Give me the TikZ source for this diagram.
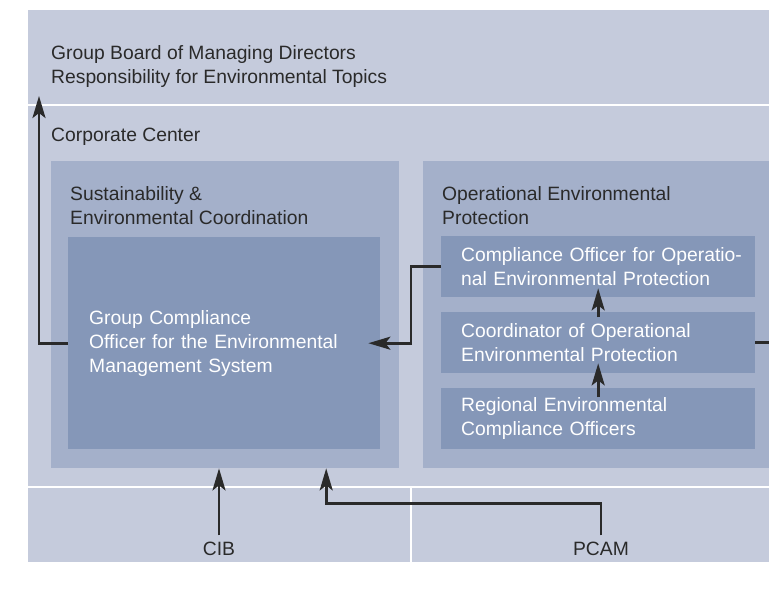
\documentclass[tikz,border=0pt]{standalone}
\usepackage{fontspec}
\setmainfont{Liberation Sans}
\usetikzlibrary{arrows.meta,positioning}
\definecolor{bglight}{HTML}{C5CBDC}
\definecolor{boxmid}{HTML}{A4B0CA}
\definecolor{boxdark}{HTML}{8597B8}
\definecolor{txtdark}{HTML}{2A2A2A}

\begin{document}
\begin{tikzpicture}[x=1pt,y=-1pt,>={Stealth[length=22pt,width=13pt,inset=5pt]},
  font=\fontsize{19.3}{24}\selectfont]
\tikzstyle{txt}=[inner sep=0pt, align=left, text=txtdark, anchor=base west]
\tikzstyle{unit}=[fill=boxmid, inner sep=0pt, anchor=north west]
\tikzstyle{post}=[fill=boxdark, text=white, align=left, anchor=north west,
text width=274pt, inner xsep=20pt, inner ysep=0pt, minimum height=61pt]
\tikzstyle{link}=[line width=2.6pt, draw=txtdark]
\tikzstyle{sep}=[draw=white, line width=1.5pt]

\useasboundingbox (0,0) rectangle (769,590);
\fill[bglight] (28,10) rectangle (769,562);
\draw[sep] (28,105) -- (769,105);
\draw[sep] (28,487) -- (769,487);
\draw[sep] (411,487) -- (411,562);

\node (board) [txt] at (51,83) {Group Board of Managing Directors\\Responsibility for Environmental Topics};
\node (corp) [txt] at (51,141) {Corporate Center};
\coordinate (boardin) at (39,96);
\coordinate (edge) at (769,0);

\node (sust) [unit, minimum width=348pt, minimum height=307pt] at (51,161) {};
\path (sust.north west)+(19,63) node (sustlbl) [txt] {Sustainability \&\\Environmental Coordination};
\path (sust.north west)+(17,76) node (gco) [post, text width=270pt, inner xsep=21pt,
minimum height=212pt] {Group Compliance\\Officer for the Environmental\\Management System};

\node (ope) [unit, minimum width=346pt, minimum height=307pt] at (423,161) {};
\path (ope.north west)+(19,63) node (opelbl) [txt] {Operational Environmental\\Protection};
\path (ope.north west)+(18,75) node (cop) [post] {\mbox{Compliance Officer for Operatio-}\\nal Environmental Protection};
\path (ope.north west)+(18,151) node (cor) [post] {Coordinator of Operational\\Environmental Protection};
\path (ope.north west)+(18,227) node (reg) [post] {Regional Environmental\\Compliance Officers};

\node (cib) [txt, anchor=base, inner sep=6pt] at (219,555) {CIB};
\node (pcam) [txt, anchor=base, inner sep=6pt] at (601,555) {PCAM};

\draw[link,->] (gco.west) -| (boardin);
\draw[link,->] (cop.west) -- ++(-30,0) |- ([xshift=-12pt]gco.east);
\draw[link] (cor.east) -- (cor.east -| edge);
\draw[link,->] ([yshift=-5pt]cor.north) -- ([yshift=9pt]cop.south);
\draw[link,->] ([yshift=-9pt]reg.north) -- ([yshift=10pt]cor.south);
\draw[link,->] (cib.north) -- (cib.north |- sust.south);
\draw[link,->] (pcam.north) -- ++(0,-32) -| ([xshift=101pt]sust.south);
\end{tikzpicture}
\end{document}
